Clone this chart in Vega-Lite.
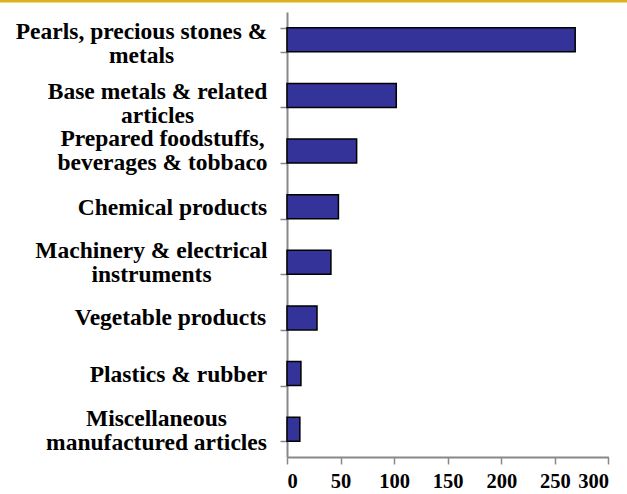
{
  "$schema": "https://vega.github.io/schema/vega-lite/v6.json",
  "padding": {"left": 0, "top": 0, "right": 0, "bottom": 0},
  "columns": 2,
  "bounds": "flush",
  "spacing": {"row": 9, "column": 0},
  "concat": [
    {
      "width": 287,
      "height": 2.5,
      "data": {"values": []},
      "mark": "rect",
      "view": {"fill": "#DFB01E", "stroke": null}
    },
    {
      "width": 340,
      "height": 2.5,
      "data": {"values": []},
      "mark": "rect",
      "view": {"fill": "#DFB01E", "stroke": null}
    },
    {
      "width": 1,
      "height": 1,
      "data": {"values": []},
      "mark": "rect"
    },
    {
      "width": 321.4,
      "height": 445,
      "data": {
        "values": [
          {"category": "Pearls, precious stones &|metals", "value": 269},
          {"category": "Base metals & related|articles", "value": 102},
          {"category": "Prepared foodstuffs,|beverages & tobbaco", "value": 65},
          {"category": "Chemical products", "value": 48},
          {"category": "Machinery & electrical|instruments", "value": 41},
          {"category": "Vegetable products", "value": 28},
          {"category": "Plastics & rubber", "value": 13},
          {"category": "Miscellaneous|manufactured articles", "value": 12}
        ]
      },
      "mark": {"type": "bar", "fill": "#333399", "stroke": "#000000", "strokeWidth": 1.5},
      "encoding": {
        "y": {
          "field": "category",
          "type": "nominal",
          "sort": null,
          "scale": {"paddingInner": 0.57, "paddingOuter": 0.285},
          "axis": {
            "title": null,
            "labelExpr": "split(datum.label, '|')",
            "labelAlign": "center",
            "labelBaseline": "middle",
            "labelFont": "Liberation Serif",
            "labelFontWeight": "bold",
            "labelFontSize": 23.5,
            "labelLineHeight": 24,
            "labelColor": "#000000",
            "labelLimit": 500,
            "labelOffset": {
              "condition": [
                {"test": "datum.value === 'Pearls, precious stones &|metals'", "value": -8.75},
                {"test": "datum.value === 'Base metals & related|articles'", "value": -4.25},
                {"test": "datum.value === 'Prepared foodstuffs,|beverages & tobbaco'", "value": -12.25},
                {"test": "datum.value === 'Chemical products'", "value": 0.5},
                {"test": "datum.value === 'Machinery & electrical|instruments'", "value": -12.25},
                {"test": "datum.value === 'Vegetable products'", "value": -0.5},
                {"test": "datum.value === 'Plastics & rubber'", "value": 1.25}
              ],
              "value": -10.25
            },
            "labelPadding": {
              "condition": [
                {"test": "datum.value === 'Pearls, precious stones &|metals'", "value": 139},
                {"test": "datum.value === 'Base metals & related|articles'", "value": 123},
                {"test": "datum.value === 'Prepared foodstuffs,|beverages & tobbaco'", "value": 118},
                {"test": "datum.value === 'Chemical products'", "value": 108},
                {"test": "datum.value === 'Machinery & electrical|instruments'", "value": 129},
                {"test": "datum.value === 'Vegetable products'", "value": 110},
                {"test": "datum.value === 'Plastics & rubber'", "value": 102}
              ],
              "value": 124
            },
            "tickBand": "extent",
            "tickSize": 7,
            "tickColor": "#888888",
            "tickWidth": 1.5,
            "domainColor": "#888888",
            "domainWidth": 2
          }
        },
        "x": {
          "field": "value",
          "type": "quantitative",
          "scale": {"domain": [0, 300], "nice": false},
          "axis": {
            "values": [0, 50, 100, 150, 200, 250, 300],
            "title": null,
            "grid": false,
            "labelFont": "Liberation Serif",
            "labelFontWeight": "bold",
            "labelFontSize": 20.5,
            "labelColor": "#000000",
            "labelPadding": 7,
            "tickSize": 7,
            "tickColor": "#888888",
            "tickWidth": 1.5,
            "domainColor": "#888888",
            "domainWidth": 2
          }
        }
      }
    }
  ],
  "config": {
    "view": {"stroke": null},
    "background": "#ffffff"
  }
}
